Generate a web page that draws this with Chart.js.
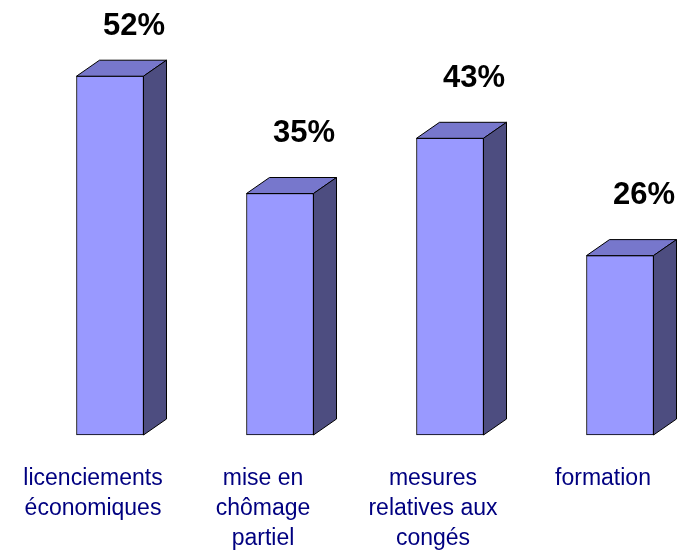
<!DOCTYPE html>
<html lang="fr">
<head>
<meta charset="utf-8">
<title>Mesures</title>
<script src="https://cdn.jsdelivr.net/npm/chart.js@4/dist/chart.umd.min.js"></script>
<style>
    html, body { margin: 0; padding: 0; background: #ffffff; }
    canvas { display: block; }
</style>
</head>
<body>
<canvas id="chart" width="684" height="552"></canvas>
<script>
// Chart data
const categories = [
    ['licenciements', 'économiques'],
    ['mise en', 'chômage', 'partiel'],
    ['mesures', 'relatives aux', 'congés'],
    ['formation']
];
const values = [52, 35, 43, 26];
const valueLabels = ['52%', '35%', '43%', '26%'];

const FONT = 'Arial, "Liberation Sans", Helvetica, sans-serif';

// 3D depth of the boxes
const DEPTH_X = 23;
const DEPTH_Y = 16;

/**
 * Draws top and side faces of each bar, then the value labels
 */
const boxPlugin = {
    id: 'box3d',
    afterDatasetsDraw(chart) {
        const ctx = chart.ctx;
        const meta = chart.getDatasetMeta(0);

        ctx.save();
        ctx.lineWidth = 1;
        ctx.strokeStyle = '#000000';
        ctx.lineJoin = 'round';

        meta.data.forEach((bar, i) => {
            const p = bar.getProps(['x', 'y', 'base', 'width'], true);
            const left = p.x - p.width / 2;
            const right = p.x + p.width / 2;
            const top = p.y;
            const base = p.base;

            // top face
            ctx.beginPath();
            ctx.moveTo(left, top);
            ctx.lineTo(left + DEPTH_X, top - DEPTH_Y);
            ctx.lineTo(right + DEPTH_X, top - DEPTH_Y);
            ctx.lineTo(right, top);
            ctx.closePath();
            ctx.fillStyle = '#7777cc';
            ctx.fill();
            ctx.stroke();

            // side face
            ctx.beginPath();
            ctx.moveTo(right, top);
            ctx.lineTo(right + DEPTH_X, top - DEPTH_Y);
            ctx.lineTo(right + DEPTH_X, base - DEPTH_Y);
            ctx.lineTo(right, base);
            ctx.closePath();
            ctx.fillStyle = '#4d4d80';
            ctx.fill();
            ctx.stroke();

            // value label
            ctx.fillStyle = '#000000';
            ctx.font = 'bold 31px ' + FONT;
            ctx.textAlign = 'center';
            ctx.textBaseline = 'middle';
            const ly = Math.max(top - DEPTH_Y - 44, 26);
            ctx.fillText(valueLabels[i], p.x + 24, ly);
        });

        ctx.restore();
    }
};

new Chart(document.getElementById('chart'), {
    type: 'bar',
    data: {
        labels: categories,
        datasets: [{
            data: values,
            backgroundColor: '#9999ff',
            borderColor: '#000000',
            borderWidth: 1,
            borderSkipped: false,
            barThickness: 67,
            clip: false
        }]
    },
    options: {
        responsive: false,
        animation: false,
        devicePixelRatio: 1,
        layout: {
            padding: { left: 110, right: 64, top: 21, bottom: 1 }
        },
        plugins: {
            legend: { display: false },
            tooltip: { enabled: false }
        },
        scales: {
            x: {
                offset: false,
                grid: { display: false, drawTicks: false },
                border: { display: false },
                ticks: {
                    color: '#000080',
                    padding: 29,
                    labelOffset: -17,
                    maxRotation: 0,
                    autoSkip: false,
                    font: { family: FONT, size: 23, lineHeight: '30px' }
                },
                // fixed axis band under the bars, no extra edge padding
                afterFit(scale) {
                    scale.height = 116;
                    scale.paddingLeft = 0;
                    scale.paddingRight = 0;
                }
            },
            y: {
                display: false,
                min: 0,
                max: 60
            }
        }
    },
    plugins: [boxPlugin]
});
</script>
</body>
</html>
